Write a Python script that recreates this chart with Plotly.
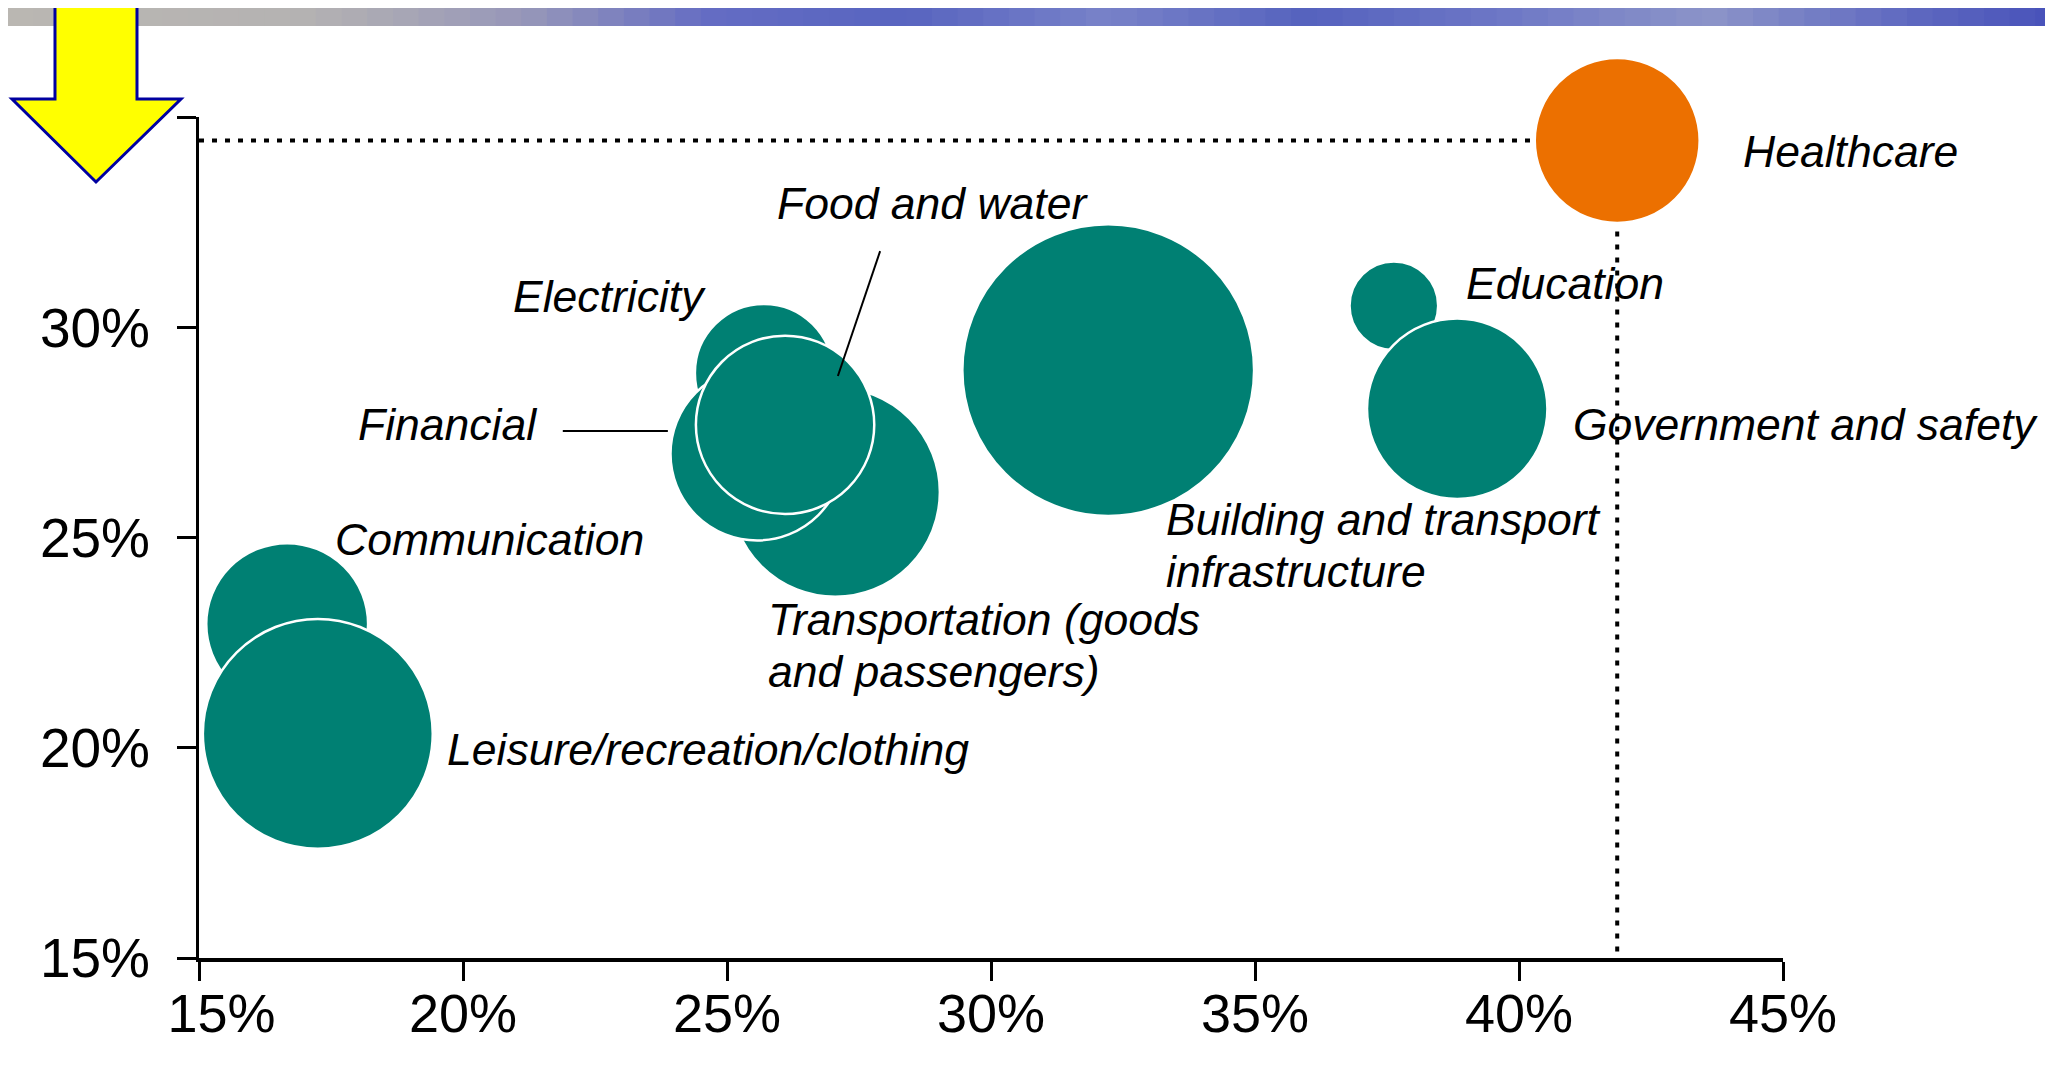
import plotly.graph_objects as go

# ---------------- data ----------------
sectors = ["Communication", "Leisure/recreation/clothing", "Transportation (goods and passengers)",
           "Electricity", "Financial", "Food and water", "Building and transport infrastructure",
           "Education", "Government and safety", "Healthcare"]
x_vals = [16.67, 17.25, 27.05, 25.70, 25.57, 26.10, 32.22, 37.63, 38.83, 41.86]
y_vals = [22.94, 20.33, 26.08, 28.91, 26.99, 27.68, 28.98, 30.51, 28.06, 34.44]
bubble_vals = [1.57, 2.23, 2.03, 1.34, 1.68, 1.73, 2.83, 0.86, 1.75, 1.60]
highlight = [False] * 9 + [True]

x_ticks = [15, 20, 25, 30, 35, 40, 45]
x_ticktext = ["\u00a0\u00a0\u00a015%", "20%", "25%", "30%", "35%", "40%", "45%"]
y_ticks = [15, 20, 25, 30, 35]
y_ticktext = ["15%", "20%", "25%", "30%", ""]

# label text and placement (left edge, vertical middle) in axis units
labels = [
    ("Healthcare", 44.2, 34.17),
    ("Education", 38.96, 31.03),
    ("Government and safety", 40.98, 27.68),
    ("Building and transport<br>infrastructure", 33.28, 24.82),
    ("Transportation (goods<br>and passengers)", 25.74, 22.42),
    ("Leisure/recreation/clothing", 19.66, 19.95),
    ("Communication", 17.54, 24.96),
    ("Financial", 17.97, 27.68),
    ("Electricity", 20.91, 30.72),
    ("Food and water", 25.91, 32.95),
]
leaders = [((21.89, 27.53), (23.88, 27.53)), ((27.90, 31.81), (27.10, 28.84))]

# ---------------- figure ----------------
W, H = 2053, 1078
OFF = 8  # page body margin
TEAL = "#008073"
ORANGE = "#EC7000"
FONT = "Liberation Sans, Arial, sans-serif"
LINE_H = 52

def px(x):
    return (x - OFF) / W

def py(y):
    return 1 - (y - OFF) / H

fig = go.Figure()
fig.add_trace(go.Scatter(
    x=x_vals, y=y_vals, mode="markers",
    marker=dict(size=bubble_vals, sizemode="diameter", sizeref=0.0097,
                color=[ORANGE if h else TEAL for h in highlight],
                opacity=1, line=dict(color="white", width=2.5)),
    cliponaxis=False, hoverinfo="skip", showlegend=False,
))

hx, hy = x_vals[-1], y_vals[-1]
shapes = [
    dict(type="line", xref="x", yref="y", x0=15, x1=hx, y0=hy, y1=hy,
         line=dict(color="black", width=4, dash="5px,8px"), layer="below"),
    dict(type="line", xref="x", yref="y", x0=hx, x1=hx, y0=hy, y1=15,
         line=dict(color="black", width=4, dash="5px,8px"), layer="below"),
]
for (a, b) in leaders:
    shapes.append(dict(type="line", xref="x", yref="y", x0=a[0], y0=a[1], x1=b[0], y1=b[1],
                       line=dict(color="black", width=2), layer="above"))

# top decorative band (gradient approximation)
band_stops = [(0, (186, 183, 178)), (300, (180, 178, 178)), (520, (150, 150, 185)),
              (700, (100, 108, 195)), (900, (88, 100, 192)), (1100, (120, 130, 200)),
              (1300, (85, 98, 190)), (1500, (110, 120, 198)), (1700, (140, 148, 200)),
              (1900, (95, 105, 192)), (2061, (70, 80, 185))]
nstrip = 80
for i in range(nstrip):
    xa = W * i / nstrip
    xb = W * (i + 1) / nstrip
    xm = (xa + xb) / 2
    for j in range(len(band_stops) - 1):
        if band_stops[j][0] <= xm <= band_stops[j + 1][0]:
            t = (xm - band_stops[j][0]) / (band_stops[j + 1][0] - band_stops[j][0])
            c = [round(band_stops[j][1][k] + t * (band_stops[j + 1][1][k] - band_stops[j][1][k])) for k in range(3)]
            break
    shapes.append(dict(type="rect", xref="paper", yref="paper", x0=xa / W, x1=xb / W + 0.0005,
                       y0=py(26), y1=1.01, fillcolor=f"rgb({c[0]},{c[1]},{c[2]})",
                       line=dict(width=0), layer="above"))

# yellow arrow
pts = [(55, 6), (137, 6), (137, 99), (181, 99), (96, 182), (12, 99), (55, 99)]
path = "M " + " L ".join(f"{px(a):.5f},{py(b):.5f}" for a, b in pts) + " Z"
shapes.append(dict(type="path", xref="paper", yref="paper", path=path,
                   fillcolor="#FFFF00", line=dict(color="#0000A0", width=3), layer="above"))

annotations = []
for text, lx, ly in labels:
    lines = text.split("<br>")
    n = len(lines)
    for i, ln in enumerate(lines):
        annotations.append(dict(x=lx, y=ly, xref="x", yref="y", text=f"<i>{ln}</i>",
                                showarrow=False, xanchor="left", yanchor="middle", align="left",
                                yshift=-(i - (n - 1) / 2) * LINE_H,
                                font=dict(family=FONT, size=44.5, color="black")))

fig.update_layout(
    width=W, height=H, autosize=False,
    margin=dict(l=0, r=0, t=0, b=0, pad=0),
    paper_bgcolor="white", plot_bgcolor="white",
    shapes=shapes, annotations=annotations,
    xaxis=dict(domain=[px(199), px(1783)], range=[15, 45], tickvals=x_ticks, ticktext=x_ticktext,
               showline=True, linewidth=3.5, linecolor="black", ticks="outside", ticklen=19,
               tickwidth=3, tickcolor="black", showgrid=False, zeroline=False, automargin=False,
               tickfont=dict(family=FONT, size=54, color="black"), ticklabelstandoff=-14),
    yaxis=dict(domain=[py(958), py(117)], range=[15, 35], tickvals=y_ticks, ticktext=y_ticktext,
               showline=True, linewidth=3, linecolor="black", ticks="outside", ticklen=19,
               tickwidth=3, tickcolor="black", showgrid=False, zeroline=False, automargin=False,
               tickfont=dict(family=FONT, size=55, color="black"), ticklabelstandoff=16),
    hovermode=False,
)

fig.write_html("out.html")
